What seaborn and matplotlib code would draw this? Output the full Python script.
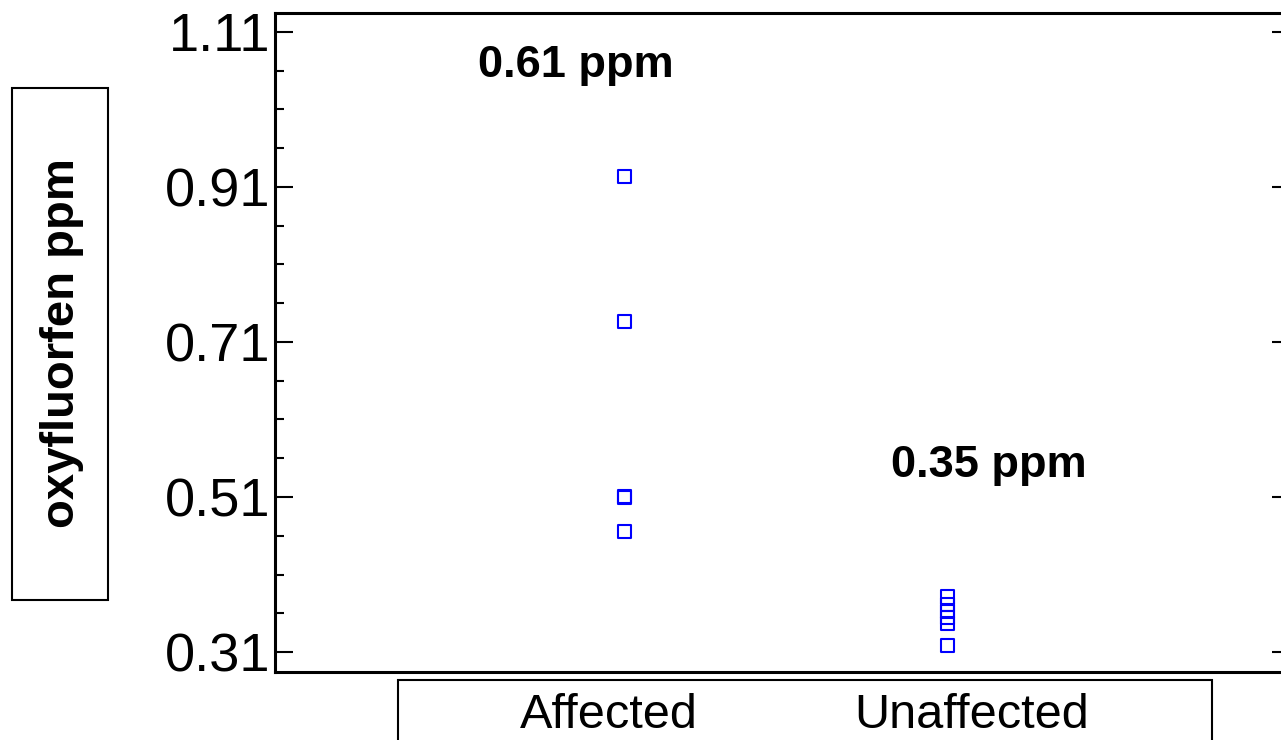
import numpy as np
import pandas as pd
import matplotlib
matplotlib.use("Agg")
import matplotlib.pyplot as plt
from matplotlib import font_manager
from matplotlib.patches import Rectangle
from matplotlib.ticker import MultipleLocator, FixedLocator
import seaborn as sns

# values
affected_ppm = [0.924, 0.736, 0.511, 0.509, 0.465]
unaffected_ppm = [0.381, 0.371, 0.362, 0.355, 0.347, 0.318]
groups = ["Affected", "Unaffected"]
mean_labels = ["0.61 ppm", "0.35 ppm"]
y_ticks = [0.31, 0.51, 0.71, 0.91, 1.11]
y_label = "oxyfluorfen ppm"

df = pd.DataFrame({
    "group": [groups[0]] * len(affected_ppm) + [groups[1]] * len(unaffected_ppm),
    "ppm": affected_ppm + unaffected_ppm,
})

sns.set_style("white")
plt.rcParams["font.family"] = ["Liberation Sans", "DejaVu Sans"]
plt.rcParams["text.color"] = "black"
plt.rcParams["xtick.color"] = "black"
plt.rcParams["ytick.color"] = "black"

installed = {f.name for f in font_manager.fontManager.ttflist}
narrow = "Liberation Sans Narrow" if "Liberation Sans Narrow" in installed else "Liberation Sans"

W, H = 1281, 740
fig = plt.figure(figsize=(W / 100, H / 100), dpi=100)
# axes box in pixel terms: left 275, right ~1290 (runs off the edge), top 13, bottom 672
ax = fig.add_axes([275 / W, 1 - 672 / H, (1290 - 275) / W, (672 - 13) / H])

sns.stripplot(data=df, x="group", y="ppm", order=groups, jitter=False,
              marker="s", size=9.5, linewidth=1.5, color="#0000ff", ax=ax)
for coll in ax.collections:
    coll.set_facecolor("none")
    coll.set_edgecolor("#0000ff")

ax.set_xlim(-1.08, 2.06)
ax.set_ylim(0.2842, 1.1345)

ax.yaxis.set_major_locator(FixedLocator(y_ticks))
ax.yaxis.set_minor_locator(MultipleLocator(0.05, offset=0.01))
ax.set_yticklabels([f"{v:.2f}" for v in y_ticks], fontsize=39, color="black")
ax.tick_params(axis="y", which="major", direction="in", length=13, width=1.5,
               pad=3, left=True, right=True, color="black")
ax.tick_params(axis="y", which="minor", direction="in", length=6.5, width=1.5,
               left=True, right=False, color="black")
ax.tick_params(axis="x", bottom=False, labelbottom=False)
ax.set_xlabel("")
ax.set_ylabel("")
for side in ["left", "right", "top", "bottom"]:
    ax.spines[side].set_visible(True)
    ax.spines[side].set_color("black")
    ax.spines[side].set_linewidth(2.2)

# group mean labels
ax.text(-0.149, 1.067, mean_labels[0], ha="center", va="center",
        fontsize=32.5, fontweight="bold", color="black")
ax.text(1.127, 0.551, mean_labels[1], ha="center", va="center",
        fontsize=32.5, fontweight="bold", color="black")

# y label in its own box
fig.patches.append(Rectangle((12 / W, 1 - 600 / H), 96 / W, 512 / H,
                             transform=fig.transFigure, fill=False,
                             edgecolor="black", linewidth=1.5))
fig.text(62 / W, 1 - 343 / H, y_label, rotation=90, ha="center", va="center",
         fontsize=34, fontweight="bold", color="black")

# category labels in a box below the axes
fig.patches.append(Rectangle((398 / W, -0.05), 814 / W, 0.05 + (740 - 680) / H,
                             transform=fig.transFigure, fill=False,
                             edgecolor="black", linewidth=1.5))
for name, xc in zip(groups, [609, 972]):
    fig.text(xc / W, 1 - 716 / H, name, ha="center", va="center",
             fontsize=35, color="black", family=[narrow, "DejaVu Sans"])

fig.savefig("out.png", dpi=100)
